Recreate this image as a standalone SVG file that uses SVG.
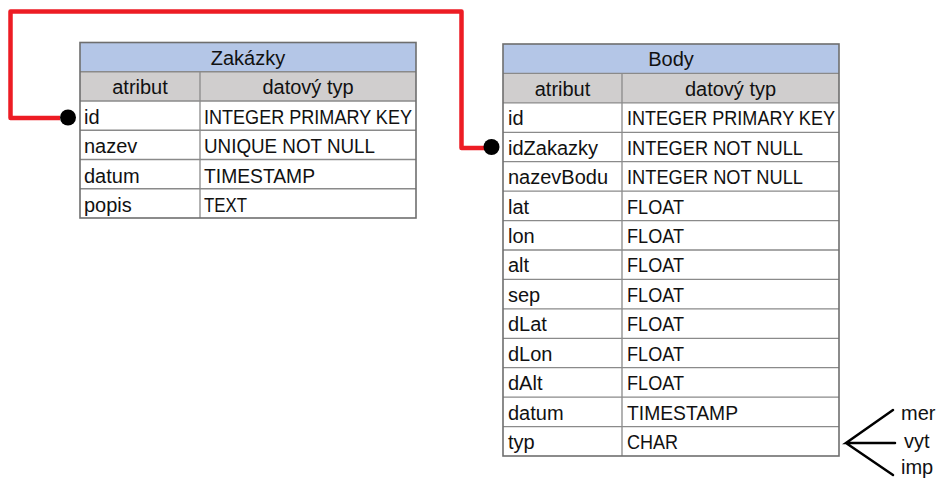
<svg xmlns="http://www.w3.org/2000/svg" width="938" height="479" viewBox="0 0 938 479">
  <style>
    text { font-family: "Liberation Sans", Arial, sans-serif; font-size: 20px; fill: #111; }
    .c { text-anchor: middle; }
    .title { fill: #B4C6E7; }
    .head { fill: #D0CECE; }
    .grid { stroke: #8A8A8A; stroke-width: 1.3; fill: none; }
    .frame { stroke: #6E6E6E; stroke-width: 1.6; fill: none; }
    .rel { stroke: #ED1C24; stroke-width: 4.5; fill: none; stroke-linejoin: round; }
    .pin { fill: #000; }
    .enum { stroke: #000; stroke-width: 2.5; fill: none; stroke-linecap: round; }
  </style>

  <!-- relationship Zakazky.id -> Body.idZakazky -->
  <g id="connectors">
    <path class="rel" d="M 60 118 H 10.5 V 11.5 H 461.5 V 148 H 486"/>
    <circle class="pin" cx="68" cy="117.5" r="8"/>
    <circle class="pin" cx="491.5" cy="147" r="8"/>
    <!-- allowed values of Body.typ -->
    <path class="enum" d="M 893 410 L 846 443 L 895 443 M 846 443 L 893 475"/>
  </g>

  <!-- table Zakazky -->
  <g id="zakazky">
    <rect class="title" x="80" y="42.5" width="336" height="29.25"/>
    <rect class="head" x="80" y="71.75" width="336" height="29.25"/>
    <rect x="80" y="101" width="336" height="117" fill="#fff"/>
    <path class="grid" d="M 80 71.75 H 416 M 80 101 H 416 M 80 130.25 H 416 M 80 159.5 H 416 M 80 188.75 H 416 M 200 71.75 V 218"/>
    <rect class="frame" x="80" y="42.5" width="336" height="175.5"/>
    <text class="c" x="248" y="64.5">Zakázky</text>
    <text class="c" x="140" y="94">atribut</text>
    <text class="c" x="308" y="94">datový typ</text>
    <text x="84" y="124">id</text>
    <text x="204" y="124" textLength="208" lengthAdjust="spacingAndGlyphs">INTEGER PRIMARY KEY</text>
    <text x="84" y="153">nazev</text>
    <text x="204" y="153" textLength="171" lengthAdjust="spacingAndGlyphs">UNIQUE NOT NULL</text>
    <text x="84" y="182.5">datum</text>
    <text x="204" y="182.5" textLength="111" lengthAdjust="spacingAndGlyphs">TIMESTAMP</text>
    <text x="84" y="211.5">popis</text>
    <text x="204" y="211.5" textLength="43" lengthAdjust="spacingAndGlyphs">TEXT</text>
  </g>

  <!-- table Body -->
  <g id="body">
    <rect class="title" x="503" y="44" width="336" height="29.4"/>
    <rect class="head" x="503" y="73.4" width="336" height="29.5"/>
    <rect x="503" y="102.9" width="336" height="353.1" fill="#fff"/>
    <path class="grid" d="M 503 73.4 H 839 M 503 102.9 H 839 M 503 132.3 H 839 M 503 161.7 H 839 M 503 191.1 H 839 M 503 220.6 H 839 M 503 250 H 839 M 503 279.4 H 839 M 503 308.9 H 839 M 503 338.3 H 839 M 503 367.7 H 839 M 503 397.1 H 839 M 503 426.6 H 839 M 622 73.4 V 456"/>
    <rect class="frame" x="503" y="44" width="336" height="412"/>
    <text class="c" x="671" y="66">Body</text>
    <text class="c" x="562.5" y="95.5">atribut</text>
    <text class="c" x="730.5" y="95.5">datový typ</text>
    <text x="508" y="125">id</text>
    <text x="627" y="125" textLength="208" lengthAdjust="spacingAndGlyphs">INTEGER PRIMARY KEY</text>
    <text x="508" y="154.5">idZakazky</text>
    <text x="627" y="154.5" textLength="176" lengthAdjust="spacingAndGlyphs">INTEGER NOT NULL</text>
    <text x="508" y="184">nazevBodu</text>
    <text x="627" y="184" textLength="176" lengthAdjust="spacingAndGlyphs">INTEGER NOT NULL</text>
    <text x="508" y="213.5">lat</text>
    <text x="627" y="213.5" textLength="57" lengthAdjust="spacingAndGlyphs">FLOAT</text>
    <text x="508" y="243">lon</text>
    <text x="627" y="243" textLength="57" lengthAdjust="spacingAndGlyphs">FLOAT</text>
    <text x="508" y="272">alt</text>
    <text x="627" y="272" textLength="57" lengthAdjust="spacingAndGlyphs">FLOAT</text>
    <text x="508" y="301.5">sep</text>
    <text x="627" y="301.5" textLength="57" lengthAdjust="spacingAndGlyphs">FLOAT</text>
    <text x="508" y="331">dLat</text>
    <text x="627" y="331" textLength="57" lengthAdjust="spacingAndGlyphs">FLOAT</text>
    <text x="508" y="360.5">dLon</text>
    <text x="627" y="360.5" textLength="57" lengthAdjust="spacingAndGlyphs">FLOAT</text>
    <text x="508" y="390">dAlt</text>
    <text x="627" y="390" textLength="57" lengthAdjust="spacingAndGlyphs">FLOAT</text>
    <text x="508" y="419.5">datum</text>
    <text x="627" y="419.5" textLength="111" lengthAdjust="spacingAndGlyphs">TIMESTAMP</text>
    <text x="508" y="448.5">typ</text>
    <text x="627" y="448.5" textLength="51" lengthAdjust="spacingAndGlyphs">CHAR</text>
  </g>

  <!-- values of typ -->
  <g id="typ-values">
    <text x="901" y="420">mer</text>
    <text x="904" y="448">vyt</text>
    <text x="901" y="474">imp</text>
  </g>
</svg>
